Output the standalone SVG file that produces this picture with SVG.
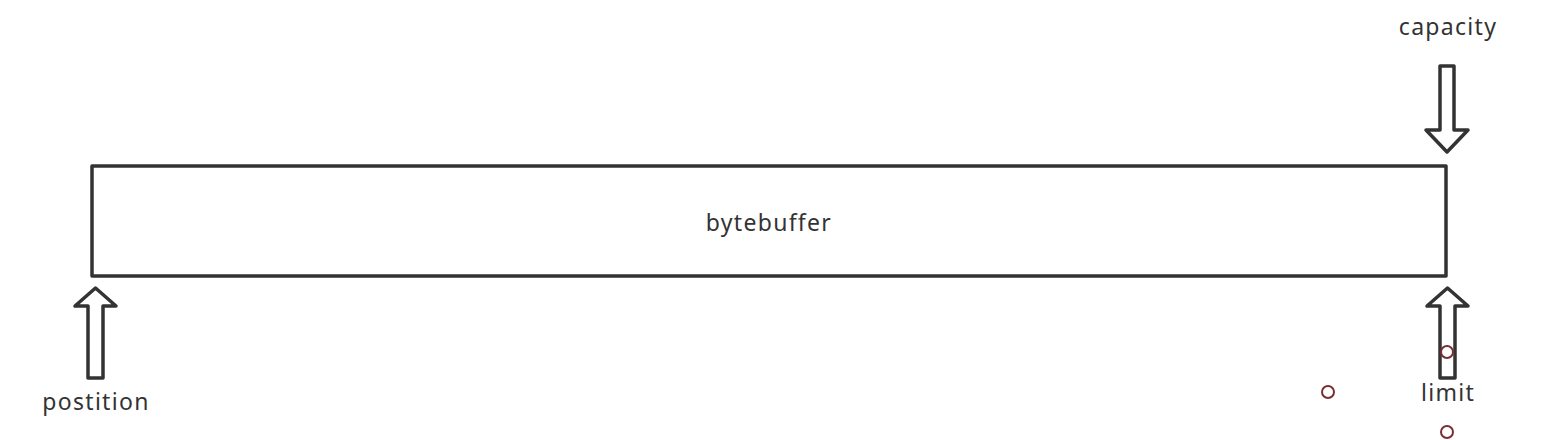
<svg xmlns="http://www.w3.org/2000/svg" width="1558" height="440" viewBox="0 0 1558 440">
<style>
.s{fill:#ffffff;stroke:#333333;stroke-width:3.5;stroke-linejoin:round}
.t{font-family:"Noto Sans","Liberation Sans",sans-serif;font-size:23px;letter-spacing:1.3px;fill:#333333;text-anchor:middle}
.h{fill:none;stroke:#7a2e2e;stroke-width:2}
</style>
<rect width="1558" height="440" fill="#ffffff"/>
<g id="bytebuffer">
<rect class="s" x="92" y="166" width="1354" height="110"/>
<text class="t" x="769" y="231">bytebuffer</text>
</g>
<g id="connectors">
<path id="capacity-arrow" class="s" d="M1440 66 L1454 66 L1454 130 L1468 130 L1447 152 L1426 130 L1440 130 Z"/>
<path id="position-arrow" class="s" d="M88 378 L103 378 L103 306 L116 306 L95.5 288 L75 306 L88 306 Z"/>
<path id="limit-arrow" class="s" d="M1440 378 L1455 378 L1455 306 L1468 306 L1447.5 288 L1427 306 L1440 306 Z"/>
</g>
<g id="capacity"><text class="t" x="1448" y="35">capacity</text></g>
<g id="position"><text class="t" x="96" y="410">postition</text></g>
<g id="limit"><text class="t" x="1448" y="401">limit</text></g>
<g id="handles">
<circle class="h" cx="1328" cy="392" r="6"/>
<circle class="h" cx="1447" cy="352" r="6"/>
<circle class="h" cx="1447" cy="432" r="6"/>
</g>
</svg>
